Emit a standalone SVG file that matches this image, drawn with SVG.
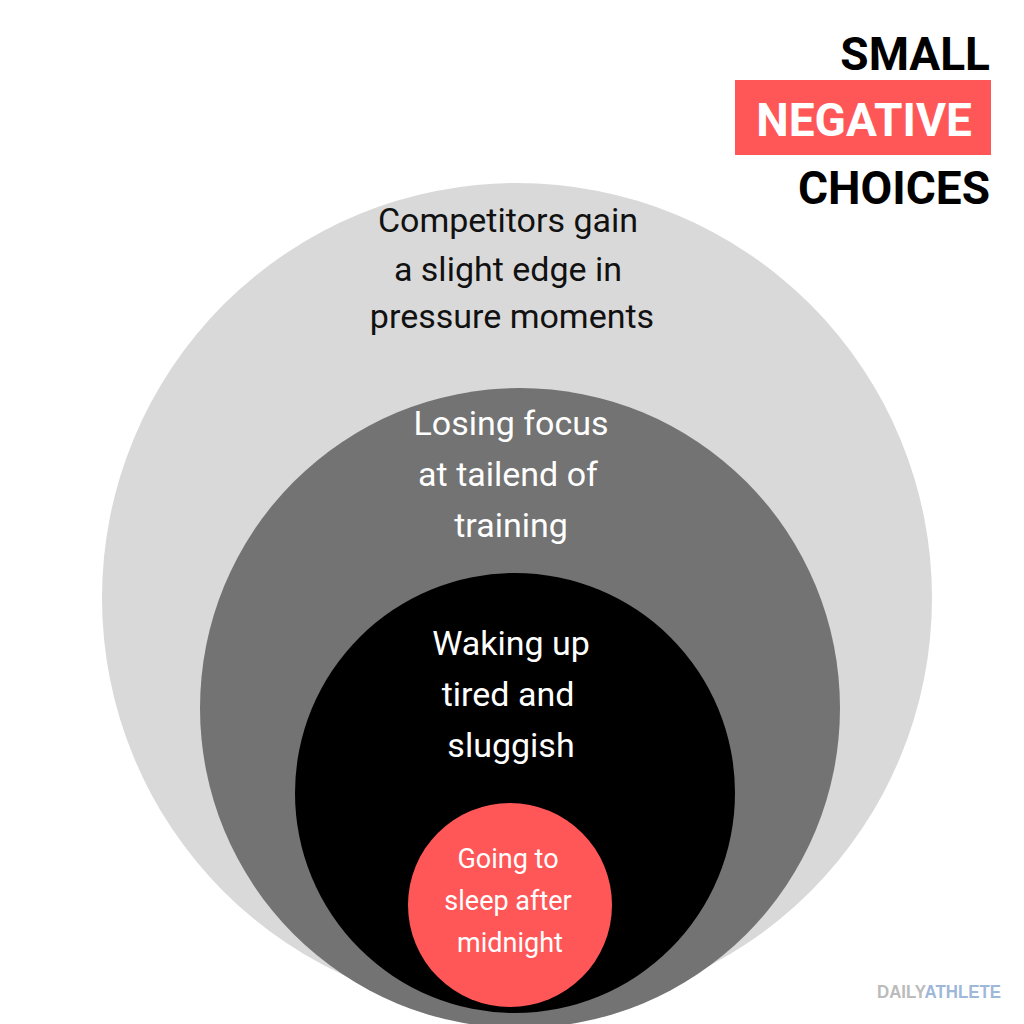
<svg xmlns="http://www.w3.org/2000/svg" width="1024" height="1024" viewBox="0 0 1024 1024">
<style>
.t{font-family:"Roboto","Liberation Sans",sans-serif;text-anchor:middle;font-size:34px}
.h{font-family:"Roboto","Liberation Sans",sans-serif;font-weight:bold;font-size:46px;text-anchor:end}
</style>
<rect width="1024" height="1024" fill="#fff"/>
<g id="outer"><circle cx="517" cy="598" r="415" fill="#d9d9d9"/>
<text class="t" fill="#111"><tspan x="508" y="232">Competitors gain</tspan><tspan x="508" y="281">a slight edge in</tspan><tspan x="512" y="328">pressure moments</tspan></text></g>
<g id="middle"><circle cx="520" cy="708" r="320" fill="#737373"/>
<text class="t" fill="#fff"><tspan x="511" y="435">Losing focus</tspan><tspan x="508" y="486">at tailend of</tspan><tspan x="511" y="537">training</tspan></text></g>
<g id="inner"><circle cx="515" cy="793" r="220" fill="#000"/>
<text class="t" fill="#fff"><tspan x="511" y="655">Waking up</tspan><tspan x="508" y="706">tired and</tspan><tspan x="511" y="757">sluggish</tspan></text></g>
<g id="core"><circle cx="510" cy="905" r="102" fill="#ff5757"/>
<text class="t" fill="#fff" style="font-size:27px"><tspan x="508" y="868">Going to</tspan><tspan x="508" y="910">sleep after</tspan><tspan x="510" y="952">midnight</tspan></text></g>
<g id="title">
<text class="h" x="990" y="70" fill="#000">SMALL</text>
<rect x="735" y="80" width="256" height="75" fill="#ff5757"/>
<text class="h" x="972" y="136" fill="#fff">NEGATIVE</text>
<text class="h" x="990" y="204" fill="#000">CHOICES</text>
</g>
<g id="logo"><text x="877" y="998" textLength="124" lengthAdjust="spacingAndGlyphs" style="font-family:'Liberation Sans',sans-serif;font-weight:bold;font-size:19px" fill="#bbb">DAILY<tspan fill="#9fb7d9">ATHLETE</tspan></text></g>
</svg>
